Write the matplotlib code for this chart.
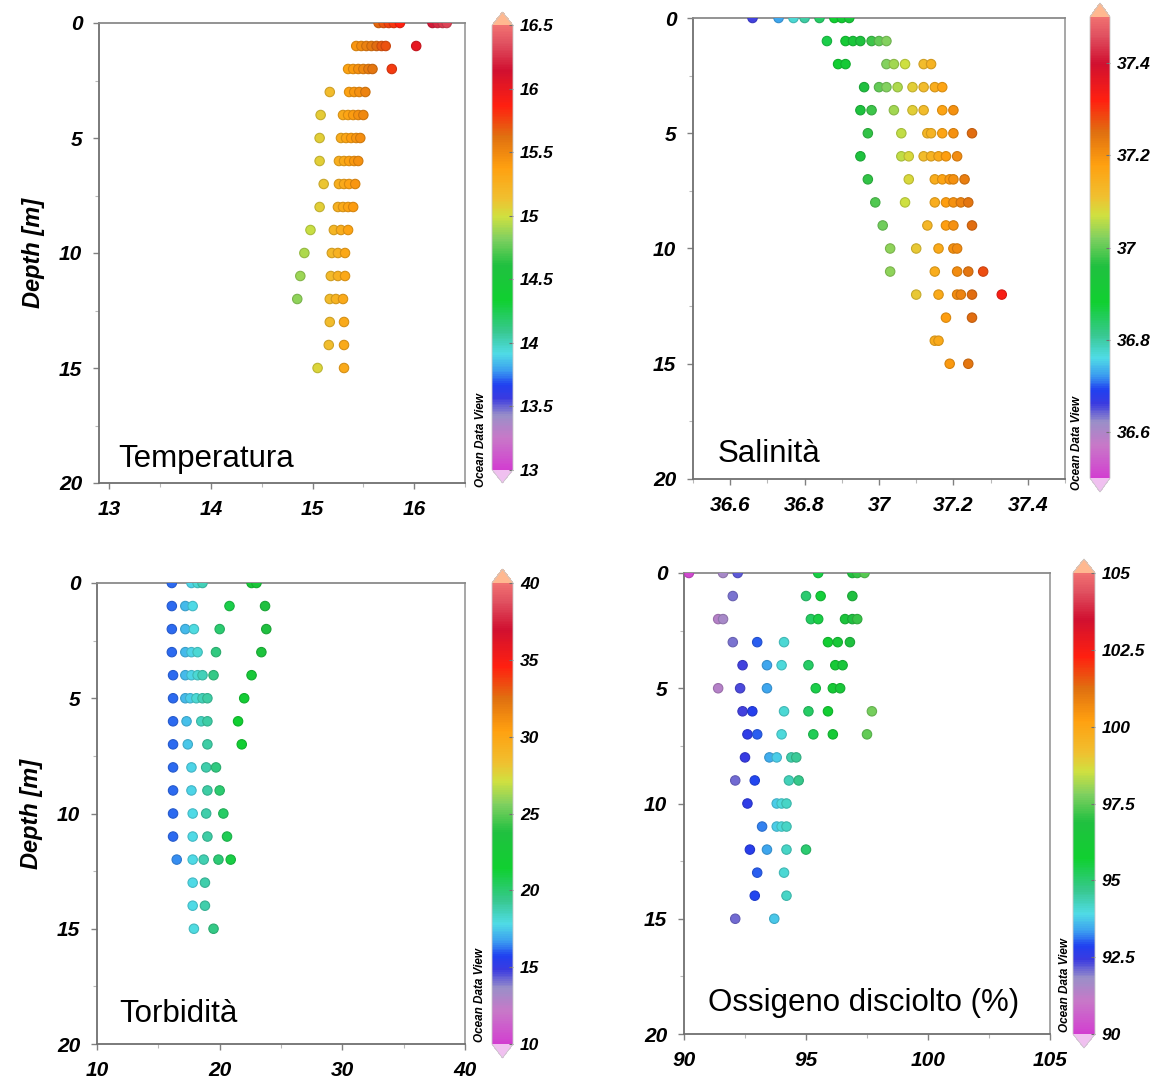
import numpy as np
import matplotlib
matplotlib.use("Agg")
import matplotlib.pyplot as plt
from matplotlib.colors import LinearSegmentedColormap, Normalize
from matplotlib.cm import ScalarMappable
from matplotlib.ticker import MultipleLocator, FuncFormatter

plt.rcParams['font.family'] = ['Liberation Sans', 'DejaVu Sans']

# Profondità di ogni riga di campioni (m)
profondita = list(range(16))

# Valori misurati per riga di profondità (0 ... 15 m)
temperatura = [
    [15.65, 15.70, 15.75, 15.80, 15.86, 16.18, 16.23, 16.28, 16.32],
    [15.43, 15.48, 15.53, 15.58, 15.63, 15.68, 15.72, 16.02],
    [15.35, 15.40, 15.45, 15.50, 15.55, 15.59, 15.78],
    [15.17, 15.36, 15.41, 15.46, 15.52],
    [15.08, 15.30, 15.35, 15.40, 15.45, 15.50],
    [15.07, 15.28, 15.33, 15.38, 15.43, 15.47],
    [15.07, 15.26, 15.31, 15.36, 15.41, 15.45],
    [15.11, 15.26, 15.31, 15.36, 15.42],
    [15.07, 15.25, 15.30, 15.35, 15.40],
    [14.98, 15.21, 15.28, 15.35],
    [14.92, 15.19, 15.25, 15.32],
    [14.88, 15.18, 15.25, 15.32],
    [14.85, 15.17, 15.23, 15.30],
    [15.17, 15.31],
    [15.16, 15.31],
    [15.05, 15.31],
]

salinita = [
    [36.66, 36.73, 36.77, 36.80, 36.84, 36.88, 36.90, 36.92],
    [36.86, 36.91, 36.93, 36.95, 36.98, 37.00, 37.02],
    [36.89, 36.91, 37.02, 37.04, 37.07, 37.12, 37.14],
    [36.96, 37.00, 37.02, 37.05, 37.09, 37.12, 37.15, 37.17],
    [36.95, 36.98, 37.04, 37.09, 37.12, 37.17, 37.20],
    [36.97, 37.06, 37.13, 37.14, 37.17, 37.20, 37.25],
    [36.95, 37.06, 37.08, 37.12, 37.14, 37.16, 37.18, 37.21],
    [36.97, 37.08, 37.15, 37.17, 37.19, 37.20, 37.23],
    [36.99, 37.07, 37.15, 37.18, 37.20, 37.22, 37.24],
    [37.01, 37.13, 37.18, 37.20, 37.25],
    [37.03, 37.10, 37.16, 37.20, 37.21],
    [37.03, 37.15, 37.21, 37.24, 37.28],
    [37.10, 37.16, 37.21, 37.22, 37.25, 37.33],
    [37.18, 37.25],
    [37.15, 37.16],
    [37.19, 37.24],
]

torbidita = [
    [16.1, 17.7, 18.2, 18.6, 22.6, 23.0],
    [16.1, 17.2, 17.8, 20.8, 23.7],
    [16.1, 17.2, 17.9, 20.0, 23.8],
    [16.1, 17.2, 17.7, 18.2, 19.7, 23.4],
    [16.2, 17.2, 17.7, 18.2, 18.6, 19.5, 22.6],
    [16.2, 17.2, 17.6, 18.1, 18.6, 19.0, 22.0],
    [16.2, 17.3, 18.5, 19.0, 21.5],
    [16.2, 17.4, 19.0, 21.8],
    [16.2, 17.7, 18.9, 19.7],
    [16.2, 17.7, 19.0, 20.0],
    [16.2, 17.8, 18.9, 20.3],
    [16.2, 17.8, 19.0, 20.6],
    [16.5, 17.8, 18.7, 19.9, 20.9],
    [17.8, 18.8],
    [17.8, 18.8],
    [17.9, 19.5],
]

ossigeno = [
    [90.2, 91.6, 92.2, 95.5, 96.9, 97.1, 97.4],
    [92.0, 95.0, 95.6, 96.9],
    [91.4, 91.6, 95.2, 95.5, 96.6, 96.9, 97.1],
    [92.0, 93.0, 94.1, 95.9, 96.3, 96.8],
    [92.4, 93.4, 94.0, 95.1, 96.2, 96.5],
    [91.4, 92.3, 93.4, 95.4, 96.1, 96.4],
    [92.4, 92.8, 94.1, 95.1, 95.9, 97.7],
    [92.6, 93.0, 94.0, 95.3, 96.1, 97.5],
    [92.5, 93.5, 93.8, 94.4, 94.6],
    [92.1, 92.9, 94.3, 94.7],
    [92.6, 93.8, 94.0, 94.2],
    [93.2, 93.8, 94.0, 94.2],
    [92.7, 93.4, 94.2, 95.0],
    [93.0, 94.1],
    [92.9, 94.2],
    [92.1, 93.7],
]

# Palette in stile Ocean Data View
odv = LinearSegmentedColormap.from_list('odv', [
    (0.00, '#d23fd0'), (0.07, '#c878c8'), (0.12, '#9a8fc8'),
    (0.16, '#3a3ae0'), (0.19, '#2040f0'), (0.22, '#3a9af0'),
    (0.26, '#50dce6'), (0.31, '#38c890'), (0.38, '#10d030'),
    (0.46, '#20c040'), (0.52, '#80d060'), (0.57, '#d0e040'),
    (0.61, '#f0c030'), (0.68, '#ffa010'), (0.75, '#e07010'),
    (0.82, '#ff2010'), (0.90, '#d01030'), (0.96, '#e05060'),
    (1.00, '#f07070'),
])
odv.set_under('#f0c0f0')
odv.set_over('#ffb890')

W, H = 1166, 1082
fig = plt.figure(figsize=(W / 100, H / 100), dpi=100)


def box(left, top, right, bottom):
    # coordinate in pixel -> frazioni della figura
    return [left / W, 1 - bottom / H, (right - left) / W, (bottom - top) / H]


fmt = FuncFormatter(lambda v, p: f"{v:g}")
tick_font = dict(fontsize=15, fontweight='bold', fontstyle='italic')

pannelli = [
    # dati, nome, xlim, scala colori, passo maggiore/minore, passo barra,
    # riquadro asse, riquadro barra, testo ODV, ylabel, posizione nome
    (temperatura, 'Temperatura', (12.9, 16.5), (13, 16.5), 1, 0.5, 0.5,
     (99, 23, 465, 483), (492, 12, 513, 483), (481, 487), True, (0.052, 0.035)),
    (salinita, 'Salinità', (36.5, 37.5), (36.5, 37.5), 0.2, 0.1, 0.2,
     (693, 18, 1065, 479), (1090, 3, 1110, 492), (1077, 490), False, (0.065, 0.037)),
    (torbidita, 'Torbidità', (10, 40), (10, 40), 10, 5, 5,
     (97, 583, 465, 1044), (492, 569, 513, 1058), (480, 1042), True, (0.06, 0.048)),
    (ossigeno, 'Ossigeno disciolto (%)', (90, 105), (90, 105), 5, 2.5, 2.5,
     (684, 573, 1050, 1034), (1073, 559, 1095, 1048), (1065, 1032), False, (0.066, 0.05)),
]

for (righe, nome, xlim, crange, major, minor, cstep,
     abox, cbox, odv_pos, ylab, tpos) in pannelli:
    ax = fig.add_axes(box(*abox))
    norm = Normalize(*crange)

    xs = np.concatenate([np.asarray(r, float) for r in righe])
    ys = np.concatenate([np.full(len(r), d, float) for r, d in zip(righe, profondita)])
    face = odv(norm(xs))
    edge = face.copy()
    edge[:, :3] *= 0.85
    ax.scatter(xs, ys, s=46, c=face, edgecolors=edge, linewidths=0.8, zorder=3)

    ax.set_xlim(*xlim)
    ax.set_ylim(20, 0)
    ax.xaxis.set_major_locator(MultipleLocator(major))
    ax.xaxis.set_minor_locator(MultipleLocator(minor))
    ax.yaxis.set_major_locator(MultipleLocator(5))
    ax.yaxis.set_minor_locator(MultipleLocator(2.5))
    ax.xaxis.set_major_formatter(fmt)
    ax.yaxis.set_major_formatter(fmt)
    if nome == 'Temperatura':
        ax.set_xticks([13, 14, 15, 16])
    ax.tick_params(which='major', direction='out', length=4, width=1,
                   color='#808080', pad=8)
    ax.tick_params(which='minor', direction='out', length=3, width=0.8,
                   color='#b8b8b8')
    for lab in ax.get_xticklabels() + ax.get_yticklabels():
        lab.set(**tick_font)

    for side, col in [('left', '#707070'), ('bottom', '#707070'),
                      ('top', '#8a8a8a'), ('right', '#a0a0a0')]:
        ax.spines[side].set_color(col)
        ax.spines[side].set_linewidth(1.3)

    if ylab:
        ax.set_ylabel('Depth [m]', fontsize=17, fontweight='bold',
                      fontstyle='italic', labelpad=10)

    ax.text(tpos[0], tpos[1], nome, transform=ax.transAxes, fontsize=22.5,
            ha='left', va='baseline')

    # barra dei colori con estremi a punta
    cax = fig.add_axes(box(*cbox))
    cb = fig.colorbar(ScalarMappable(norm=norm, cmap=odv), cax=cax,
                      extend='both', extendfrac=0.03)
    cb.set_ticks(np.arange(crange[0], crange[1] + cstep / 2, cstep))
    if nome == 'Salinità':
        cb.set_ticks([36.6, 36.8, 37.0, 37.2, 37.4])
    cb.ax.yaxis.set_major_formatter(fmt)
    cb.ax.tick_params(direction='in', length=3, color='#707070', pad=5)
    for lab in cb.ax.get_yticklabels():
        lab.set(fontsize=12.5, fontweight='bold', fontstyle='italic')
    cb.outline.set_edgecolor('#c8c8c8')
    cb.outline.set_linewidth(0.6)

    fig.text(odv_pos[0] / W, 1 - odv_pos[1] / H, 'Ocean Data View',
             rotation=90, ha='center', va='bottom', fontsize=8.5,
             fontweight='bold', fontstyle='italic')

fig.savefig('out.png', dpi=100)
